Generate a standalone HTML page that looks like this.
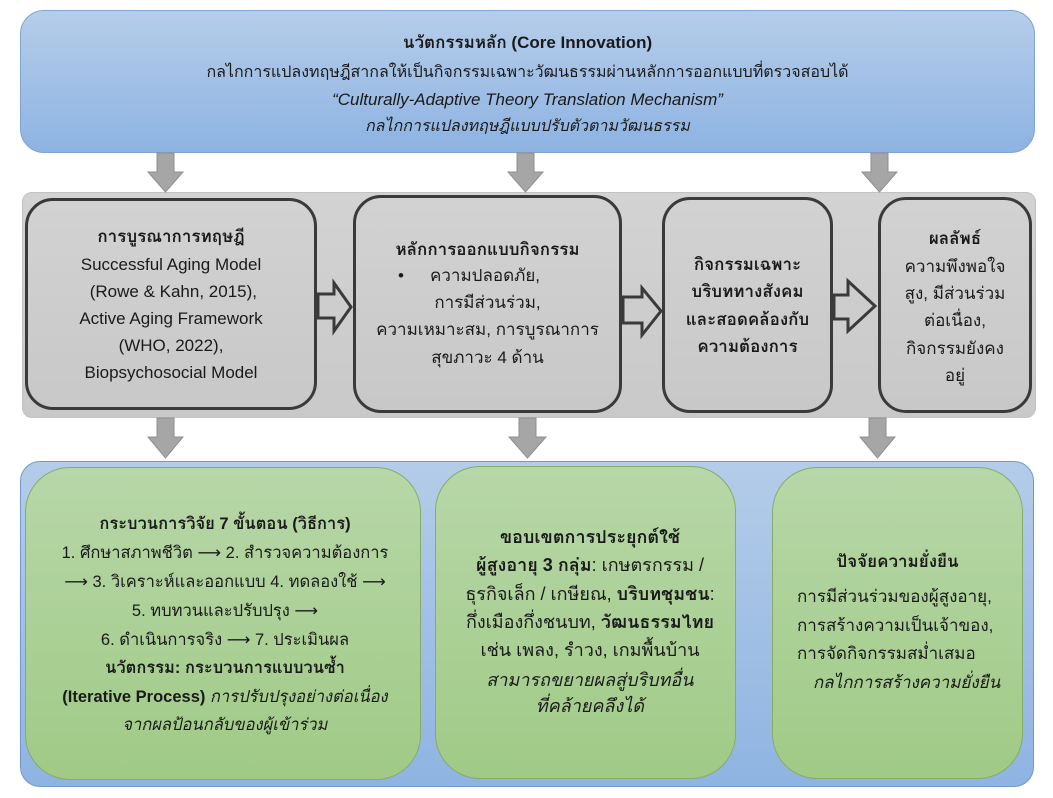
<!DOCTYPE html>
<html>
<head>
<meta charset="utf-8">
<style>
  html,body{margin:0;padding:0;background:#ffffff;}
  body{width:1053px;height:798px;position:relative;overflow:hidden;
    font-family:"Liberation Sans","Tahoma","Loma","Waree","Garuda","Norasi","Noto Sans Thai Looped","Noto Sans Thai","Sarabun","DejaVu Sans",sans-serif;
    color:#1a1a1a;}
  .abs{position:absolute;box-sizing:border-box;}
  .top{left:20px;top:10px;width:1015px;height:143px;border-radius:24px;
    background:linear-gradient(#b6cdea,#8db3e2);border:1px solid #7fa4d2;}
  .band{left:22px;top:192px;width:1014px;height:226px;border-radius:10px;
    background:linear-gradient(#d3d3d3,#c9c9c9);border:1px solid #c2c2c2;}
  .gbox{border:3px solid #3a3a3a;border-radius:28px;background:linear-gradient(#d2d2d2,#c8c8c8);}
  .panel{left:20px;top:461px;width:1014px;height:326px;border-radius:20px;
    background:linear-gradient(#b4cce9,#8fb4e2);border:1px solid #7099cc;}
  .green{border:1px solid #86ad66;border-radius:45px;background:linear-gradient(#b7d7a8,#a0ca86);}
  .l{position:absolute;height:28px;line-height:28px;white-space:nowrap;text-align:center;font-size:17px;}
  .t{font-size:16px;}
  .tt{font-size:17px;}
  .g1{font-size:16.5px;}
  .g2{font-size:18px;}
  b{font-weight:bold;}
  i{font-style:italic;}
  svg{position:absolute;left:0;top:0;}
</style>
</head>
<body>

<!-- top box -->
<div class="abs top"></div>
<div class="l tt" style="left:20px;width:1015px;top:29px;"><b>นวัตกรรมหลัก (Core Innovation)</b></div>
<div class="l t" style="left:20px;width:1015px;top:59px;">กลไกการแปลงทฤษฎีสากลให้เป็นกิจกรรมเฉพาะวัฒนธรรมผ่านหลักการออกแบบที่ตรวจสอบได้</div>
<div class="l tt" style="left:20px;width:1015px;top:86px;"><i>“Culturally-Adaptive Theory Translation Mechanism”</i></div>
<div class="l t" style="left:20px;width:1015px;top:113px;"><i>กลไกการแปลงทฤษฎีแบบปรับตัวตามวัฒนธรรม</i></div>

<!-- gray band -->
<div class="abs band"></div>
<div class="abs gbox" style="left:25px;top:198px;width:292px;height:212px;"></div>
<div class="abs gbox" style="left:353px;top:195px;width:269px;height:218px;"></div>
<div class="abs gbox" style="left:662px;top:197px;width:171px;height:216px;"></div>
<div class="abs gbox" style="left:878px;top:197px;width:154px;height:216px;"></div>

<!-- box1 text -->
<div class="l" style="left:25px;width:292px;top:223px;"><b>การบูรณาการทฤษฎี</b></div>
<div class="l" style="left:25px;width:292px;top:251px;">Successful Aging Model</div>
<div class="l" style="left:25px;width:292px;top:278px;">&nbsp;(Rowe &amp; Kahn, 2015),</div>
<div class="l" style="left:25px;width:292px;top:305px;">Active Aging Framework</div>
<div class="l" style="left:25px;width:292px;top:332px;">(WHO, 2022),</div>
<div class="l" style="left:25px;width:292px;top:359px;">Biopsychosocial Model</div>

<!-- box2 text -->
<div class="l" style="left:353px;width:269px;top:236px;"><b>หลักการออกแบบกิจกรรม</b></div>
<div class="l" style="left:398px;top:262px;text-align:left;">•</div>
<div class="l" style="left:430px;top:262px;text-align:left;">ความปลอดภัย,</div>
<div class="l" style="left:353px;width:269px;top:289px;">การมีส่วนร่วม,</div>
<div class="l" style="left:353px;width:269px;top:316px;">ความเหมาะสม, การบูรณาการ</div>
<div class="l" style="left:353px;width:269px;top:344px;">สุขภาวะ 4 ด้าน</div>

<!-- box3 text -->
<div class="l" style="left:662px;width:171px;top:251px;"><b>กิจกรรมเฉพาะ</b></div>
<div class="l" style="left:662px;width:171px;top:278px;"><b>บริบททางสังคม</b></div>
<div class="l" style="left:662px;width:171px;top:306px;"><b>และสอดคล้องกับ</b></div>
<div class="l" style="left:662px;width:171px;top:333px;"><b>ความต้องการ</b></div>

<!-- box4 text -->
<div class="l" style="left:878px;width:154px;top:225px;"><b>ผลลัพธ์</b></div>
<div class="l" style="left:878px;width:154px;top:253px;">ความพึงพอใจ</div>
<div class="l" style="left:878px;width:154px;top:280px;">สูง, มีส่วนร่วม</div>
<div class="l" style="left:878px;width:154px;top:307px;">ต่อเนื่อง,</div>
<div class="l" style="left:878px;width:154px;top:335px;">กิจกรรมยังคง</div>
<div class="l" style="left:878px;width:154px;top:362px;">อยู่</div>

<!-- bottom panel -->
<div class="abs panel"></div>
<div class="abs green" style="left:25px;top:467px;width:396px;height:313px;"></div>
<div class="abs green" style="left:435px;top:466px;width:301px;height:313px;"></div>
<div class="abs green" style="left:772px;top:467px;width:251px;height:312px;"></div>

<!-- green1 text -->
<div class="l g1" style="left:25px;width:400px;top:510px;"><b>กระบวนการวิจัย 7 ขั้นตอน (วิธีการ)</b></div>
<div class="l g1" style="left:25px;width:400px;top:539px;">1. ศึกษาสภาพชีวิต ⟶ 2. สำรวจความต้องการ</div>
<div class="l g1" style="left:25px;width:400px;top:568px;">⟶ 3. วิเคราะห์และออกแบบ 4. ทดลองใช้ ⟶</div>
<div class="l g1" style="left:25px;width:400px;top:597px;">5. ทบทวนและปรับปรุง ⟶</div>
<div class="l g1" style="left:25px;width:400px;top:626px;">6. ดำเนินการจริง ⟶ 7. ประเมินผล</div>
<div class="l g1" style="left:25px;width:400px;top:654px;"><b>นวัตกรรม: กระบวนการแบบวนซ้ำ</b></div>
<div class="l g1" style="left:25px;width:400px;top:683px;"><b>(Iterative Process)</b> <i>การปรับปรุงอย่างต่อเนื่อง</i></div>
<div class="l g1" style="left:25px;width:400px;top:711px;"><i>จากผลป้อนกลับของผู้เข้าร่วม</i></div>

<!-- green2 text -->
<div class="l g2" style="left:435px;width:310px;top:523px;"><b>ขอบเขตการประยุกต์ใช้</b></div>
<div class="l g2" style="left:435px;width:310px;top:551px;"><b>ผู้สูงอายุ 3 กลุ่ม</b>: เกษตรกรรม /</div>
<div class="l g2" style="left:435px;width:310px;top:580px;">ธุรกิจเล็ก / เกษียณ, <b>บริบทชุมชน</b>:</div>
<div class="l g2" style="left:435px;width:310px;top:608px;">กึ่งเมืองกึ่งชนบท, <b>วัฒนธรรมไทย</b></div>
<div class="l g2" style="left:435px;width:310px;top:636px;">เช่น เพลง, รำวง, เกมพื้นบ้าน</div>
<div class="l g2" style="left:435px;width:310px;top:666px;"><i>สามารถขยายผลสู่บริบทอื่น</i></div>
<div class="l g2" style="left:435px;width:310px;top:692px;"><i>ที่คล้ายคลึงได้</i></div>

<!-- green3 text -->
<div class="l" style="left:772px;width:251px;top:548px;"><b>ปัจจัยความยั่งยืน</b></div>
<div class="l" style="left:797px;top:583px;text-align:left;">การมีส่วนร่วมของผู้สูงอายุ,</div>
<div class="l" style="left:797px;top:612px;text-align:left;">การสร้างความเป็นเจ้าของ,</div>
<div class="l" style="left:797px;top:640px;text-align:left;">การจัดกิจกรรมสม่ำเสมอ</div>
<div class="l" style="left:813px;top:669px;text-align:left;"><i>กลไกการสร้างความยั่งยืน</i></div>

<!-- arrows -->
<svg width="1053" height="798" viewBox="0 0 1053 798">
  <g fill="#a6a6a6" stroke="#8f8f8f" stroke-width="1">
    <polygon points="157,153 174,153 174,172 183,172 165.5,192 148,172 157,172"/>
    <polygon points="517,153 534,153 534,172 543,172 525.5,192 508,172 517,172"/>
    <polygon points="871,153 888,153 888,172 897,172 879.5,192 862,172 871,172"/>
    <polygon points="157,418 174,418 174,437 183,437 165.5,458 148,437 157,437"/>
    <polygon points="519,418 536,418 536,437 546,437 527.5,458 509,437 519,437"/>
    <polygon points="869,418 886,418 886,437 895,437 877.5,458 860,437 869,437"/>
  </g>
  <g fill="#cdcdcd" stroke="#3a3a3a" stroke-width="3" stroke-linejoin="miter">
    <polygon points="318,294 334,294 334,283 351,307 334,331 334,318 318,318"/>
    <polygon points="623,297 642,297 642,288 661,311 642,335 642,323 623,323"/>
    <polygon points="834,295 848,295 848,281 875,306 848,331 848,319 834,319"/>
  </g>
</svg>

</body>
</html>
